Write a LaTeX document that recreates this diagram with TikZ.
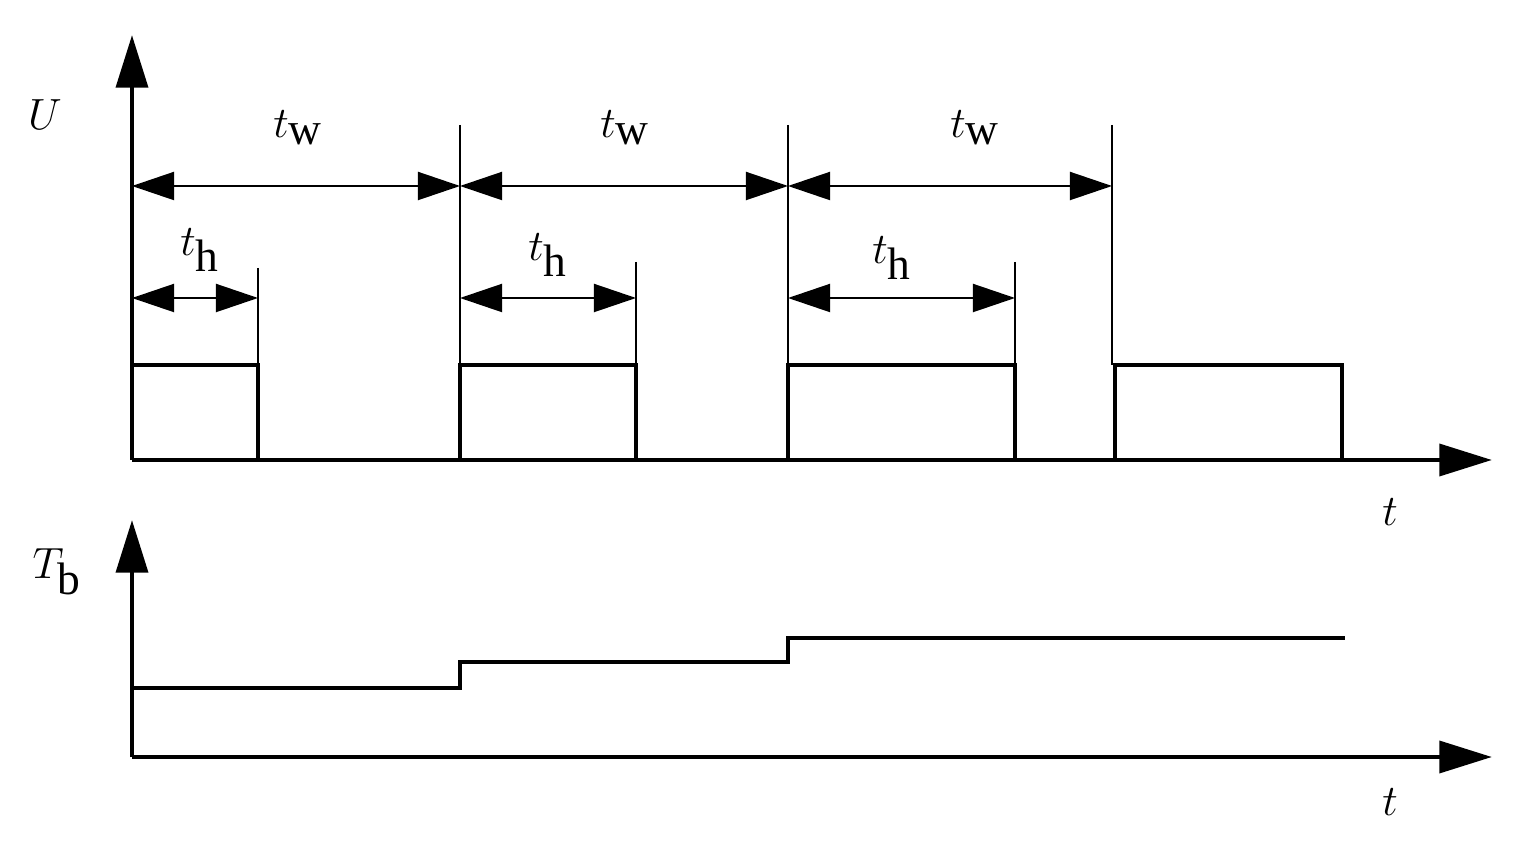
\documentclass[tikz,border=0pt]{standalone}
\usepackage{fontspec}
\setmainfont{Liberation Serif}
\usetikzlibrary{arrows.meta}
\begin{document}
\begin{tikzpicture}[x=0.02cm,y=-0.02cm,
  axis/.style={line width=2.8pt,-{Triangle[length=30pt,width=18pt]}},
  sig/.style={line width=2.8pt},
  thin/.style={line width=1.1pt},
  dim/.style={line width=1.1pt,{Triangle[length=24pt,width=16pt]}-{Triangle[length=24pt,width=16pt]}},
  lab/.style={font=\fontsize{37}{40}\selectfont,inner sep=0pt}]
\useasboundingbox (0,0) rectangle (1522,847);
% axes
\coordinate (o1) at (132,460); \coordinate (y1) at (132,35); \coordinate (x1) at (1492,460);
\coordinate (o2) at (132,757); \coordinate (y2) at (132,520); \coordinate (x2) at (1492,757);
\draw[axis] (o1) -- (y1);
\draw[axis] (o1) -- (x1);
\draw[axis] (o2) -- (y2);
\draw[axis] (o2) -- (x2);
% pulses
\draw[sig] (132,365) -- (258,365) -- (258,460);
\draw[sig] (460,460) -- (460,365) -- (636,365) -- (636,460);
\draw[sig] (788,460) -- (788,365) -- (1015,365) -- (1015,460);
\draw[sig] (1115,460) -- (1115,365) -- (1342,365) -- (1342,460);
% thin markers
\draw[thin] (258,268) -- (258,365);
\draw[thin] (460,125) -- (460,365);
\draw[thin] (636,262) -- (636,365);
\draw[thin] (788,125) -- (788,365);
\draw[thin] (1015,262) -- (1015,365);
\draw[thin] (1112,125) -- (1112,365);
% dimension arrows
\coordinate (w0) at (132,186); \coordinate (w1) at (460,186);
\coordinate (w2) at (788,186); \coordinate (w3) at (1112,186);
\draw[dim] (w0) -- (w1);
\draw[dim] (w1) -- (w2);
\draw[dim] (w2) -- (w3);
\coordinate (h0a) at (132,298); \coordinate (h0b) at (258,298);
\coordinate (h1a) at (460,298); \coordinate (h1b) at (636,298);
\coordinate (h2a) at (788,298); \coordinate (h2b) at (1015,298);
\draw[dim] (h0a) -- (h0b);
\draw[dim] (h1a) -- (h1b);
\draw[dim] (h2a) -- (h2b);
% Tb curve
\draw[sig] (132,688) -- (460,688) -- (460,662) -- (788,662) -- (788,638) -- (1345,638);
% labels
\node[lab] (U) at (45,115) {$U$};
\node[lab] (tw1) at (298,128) {$t_{\mathrm{w}}$};
\node[lab] (tw2) at (625,128) {$t_{\mathrm{w}}$};
\node[lab] (tw3) at (975,128) {$t_{\mathrm{w}}$};
\node[lab] (th1) at (200,250) {$t_{\mathrm{h}}$};
\node[lab] (th2) at (548,255) {$t_{\mathrm{h}}$};
\node[lab] (th3) at (892,258) {$t_{\mathrm{h}}$};
\node[lab] (t1) at (1390,512) {$t$};
\node[lab] (t2) at (1390,802) {$t$};
\node[lab] (Tb) at (57,572) {$T_{\mathrm{b}}$};
\end{tikzpicture}
\end{document}
